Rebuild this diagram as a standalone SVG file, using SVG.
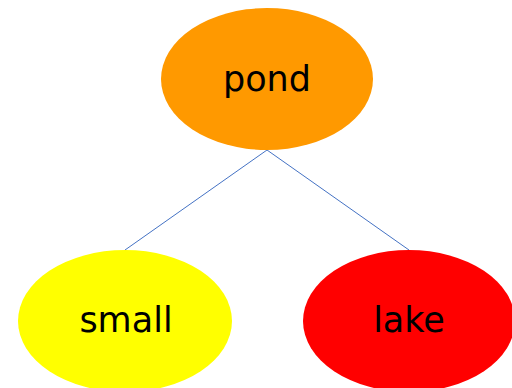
<svg xmlns="http://www.w3.org/2000/svg" width="512" height="388" viewBox="0 0 512 388">
<style>
.lbl{font-family:"DejaVu Sans",Verdana,sans-serif;font-size:35px;fill:#000;text-anchor:middle}
.edge{stroke:#4472C4;stroke-width:1;fill:none}
</style>
<rect width="512" height="388" fill="#fff"/>
<g id="connectors">
<line class="edge" x1="267" y1="150" x2="125" y2="250"/>
<line class="edge" x1="267" y1="150" x2="409" y2="250"/>
</g>
<g id="pond">
<ellipse cx="267" cy="79" rx="106" ry="71" fill="#FF9900"/>
<text class="lbl" x="267" y="91">pond</text>
</g>
<g id="small">
<ellipse cx="125" cy="321" rx="107" ry="71" fill="#FFFF00"/>
<text class="lbl" x="126" y="332">small</text>
</g>
<g id="lake">
<ellipse cx="409" cy="321" rx="106" ry="71" fill="#FF0000"/>
<text class="lbl" x="409" y="332">lake</text>
</g>
</svg>
